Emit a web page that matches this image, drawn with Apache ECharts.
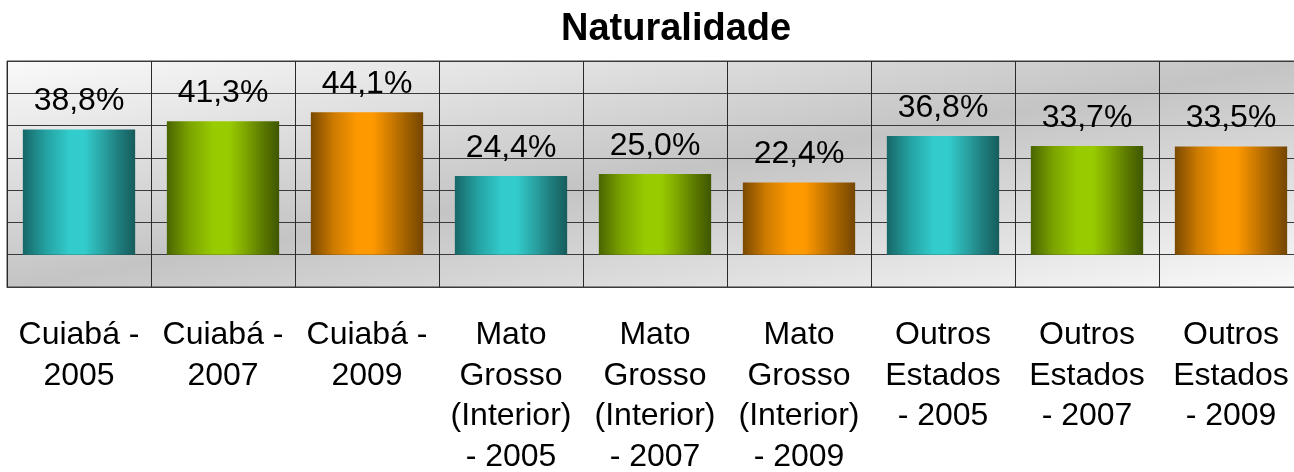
<!DOCTYPE html>
<html>
<head>
<meta charset="utf-8">
<script src="https://cdn.jsdelivr.net/npm/echarts@6/dist/echarts.min.js"></script>
<style>
  html, body { margin: 0; padding: 0; background: #ffffff; }
  #chart { width: 1294px; height: 472px; }
</style>
</head>
<body>
<div id="chart"></div>
<script>
// Birthplace shares (%) by origin and survey year
const categories = [
  'Cuiabá -\n2005', 'Cuiabá -\n2007', 'Cuiabá -\n2009',
  'Mato\nGrosso\n(Interior)\n- 2005', 'Mato\nGrosso\n(Interior)\n- 2007', 'Mato\nGrosso\n(Interior)\n- 2009',
  'Outros\nEstados\n- 2005', 'Outros\nEstados\n- 2007', 'Outros\nEstados\n- 2009'
];
const values = [38.8, 41.3, 44.1, 24.4, 25.0, 22.4, 36.8, 33.7, 33.5];
const yTicks = [-10, 0, 10, 20, 30, 40, 50, 60];

const FONT = '"Liberation Sans", Arial, sans-serif';

// Cylinder-like shading per year: dark edge, bright core, dark edge
const shades = [
  ['#176767', '#24a0a0', '#33cccc', '#33cccc', '#2aa6a6', '#1f7e7e', '#175c5c'],
  ['#4a6400', '#7ba300', '#99cc00', '#99cc00', '#7ea600', '#5c7a00', '#3f5600'],
  ['#7a4900', '#cc7a00', '#ff9900', '#ff9900', '#d17d00', '#a06000', '#744600']
];
const stopPos = [0, 0.2, 0.42, 0.55, 0.7, 0.85, 1];
function barFill(i) {
  const s = shades[i % 3];
  return new echarts.graphic.LinearGradient(0, 0, 1, 0,
    s.map((c, k) => ({ offset: stopPos[k], color: c })));
}

const chart = echarts.init(document.getElementById('chart'), null, { renderer: 'canvas' });
chart.setOption({
  animation: false,
  title: {
    text: 'Naturalidade',
    left: 556,
    top: 6,
    textStyle: { fontFamily: FONT, fontSize: 38, fontWeight: 'bold', color: '#000' }
  },
  grid: {
    left: 7, top: 61, width: 1296, height: 226,
    outerBoundsMode: 'none',
    containLabel: false,
    show: true,
    borderColor: '#3a3a3a',
    borderWidth: 1,
    // diagonal wall shading: light corners top-left / bottom-right, grey across the middle
    backgroundColor: new echarts.graphic.LinearGradient(0, 0, 0.059, 1.94, [
      { offset: 0, color: '#fafafa' },
      { offset: 0.5, color: '#c4c4c4' },
      { offset: 1, color: '#fafafa' }
    ])
  },
  xAxis: {
    type: 'category',
    data: categories,
    boundaryGap: true,
    axisLine: { onZero: false, lineStyle: { color: '#3a3a3a', width: 1 } },
    axisTick: { show: false },
    splitLine: { show: true, lineStyle: { color: '#2a2a2a', width: 1 } },
    axisLabel: {
      interval: 0,
      margin: 28,
      fontFamily: FONT,
      fontSize: 32,
      lineHeight: 40.5,
      color: '#000',
      align: 'center'
    }
  },
  yAxis: {
    type: 'value',
    min: yTicks[0],
    max: yTicks[yTicks.length - 1],
    interval: yTicks[1] - yTicks[0],
    axisLabel: { show: false },
    axisLine: { show: false },
    axisTick: { show: false },
    splitLine: { show: true, lineStyle: { color: '#3a3a3a', width: 1 } }
  },
  series: [{
    type: 'bar',
    data: values,
    barWidth: '78%',
    itemStyle: {
      color: (p) => barFill(p.dataIndex)
    },
    label: {
      show: true,
      position: 'top',
      distance: 12,
      fontFamily: FONT,
      fontSize: 32,
      color: '#000',
      formatter: (p) => p.value.toFixed(1).replace('.', ',') + '%'
    }
  }]
});
</script>
</body>
</html>
